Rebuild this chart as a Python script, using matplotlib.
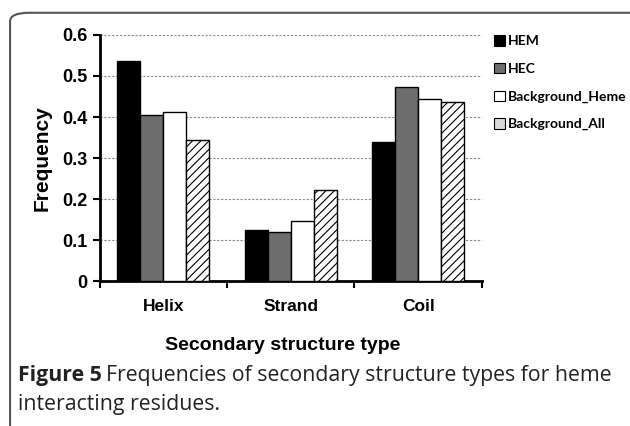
import numpy as np
import matplotlib
matplotlib.use("Agg")
import matplotlib.pyplot as plt
from matplotlib.patches import FancyBboxPatch, Patch

# ── data ──────────────────────────────────────────────────────
categories = ["Helix", "Strand", "Coil"]
series = ["HEM", "HEC", "Background_Heme", "Background_All"]
hem = [0.537, 0.124, 0.338]
hec = [0.405, 0.120, 0.473]
bg_heme = [0.411, 0.146, 0.445]
bg_all = [0.344, 0.222, 0.436]
yticks = [0, 0.1, 0.2, 0.3, 0.4, 0.5, 0.6]

values = [hem, hec, bg_heme, bg_all]
faces = ["black", "#6d6d6d", "white", "white"]
hatches = [None, None, None, "////"]
legend_faces = ["black", "#6d6d6d", "white", "#d9d9d9"]

plt.rcParams["hatch.linewidth"] = 0.8

fig = plt.figure(figsize=(6.3, 4.26), dpi=100)
ax = fig.add_axes([0.158, 0.340, 0.607, 0.578])

x = np.arange(len(categories))
w = 0.18
for i, (vals, fc, h) in enumerate(zip(values, faces, hatches)):
    offs = (i - 1.5) * w
    ax.bar(x + offs, vals, w, color=fc, edgecolor="black", linewidth=1.0,
           hatch=h, zorder=3)

ax.set_xlim(-0.5, 2.5)
ax.set_ylim(0, 0.6)
ax.set_yticks(yticks)
ax.set_yticklabels(["0", "0.1", "0.2", "0.3", "0.4", "0.5", "0.6"],
                   fontsize=13, fontweight="bold", family="Liberation Sans")
ax.set_xticks(x)
ax.set_xticklabels(categories, fontsize=12.5, fontweight="bold",
                   family="Liberation Sans")
ax.tick_params(axis="x", length=0, pad=13)
ax.tick_params(axis="y", length=5, width=1.5, direction="out")
# boundary ticks between categories
ax.set_xticks([-0.5, 0.5, 1.5, 2.5], minor=True)
ax.tick_params(axis="x", which="minor", length=5, width=1.5, direction="out")

for yv in yticks[1:]:
    ax.axhline(yv, color="#8a8a8a", lw=0.8, ls=(0, (2, 1.5)), zorder=1)

for s in ["top", "right"]:
    ax.spines[s].set_visible(False)
ax.spines["left"].set_linewidth(2)
ax.spines["bottom"].set_linewidth(2)

ax.set_ylabel("Frequency", fontsize=15, fontweight="bold",
              family="Liberation Sans", labelpad=8)

handles = [Patch(facecolor=fc, edgecolor="black", linewidth=0.8)
           for fc in legend_faces]
leg = fig.legend(handles, series, loc="upper left",
                 bbox_to_anchor=(0.776, 0.93), frameon=False,
                 prop={"family": "Lato", "weight": "bold", "size": 10},
                 handlelength=0.75, handleheight=0.75, handletextpad=0.25,
                 labelspacing=1.12, borderaxespad=0)

fig.text(0.448, 0.19, "Secondary structure type", ha="center", va="center",
         fontsize=14, fontweight="bold", family="Liberation Sans")

# caption
cap_color = "#222222"
t1 = fig.text(0.028, 0.118, "Figure 5", fontsize=15.3, fontweight="bold",
              family="Open Sans", va="center", color=cap_color)
fig.canvas.draw()
bb = t1.get_window_extent()
fig.text((bb.x1 + 5) / fig.bbox.width, 0.118,
         "Frequencies of secondary structure types for heme",
         fontsize=15.3, family="Open Sans", va="center", color=cap_color)
fig.text(0.028, 0.05, "interacting residues.", fontsize=15.3,
         family="Open Sans", va="center", color=cap_color)

# rounded frame around the panel
frame = FancyBboxPatch((0.016, -0.05), 1.2, 1.02, transform=fig.transFigure,
                       boxstyle="round,pad=0,rounding_size=0.03",
                       fill=False, edgecolor="#555555", lw=1.5,
                       mutation_aspect=426 / 630)
fig.patches.append(frame)

fig.savefig("out.png", dpi=100)
